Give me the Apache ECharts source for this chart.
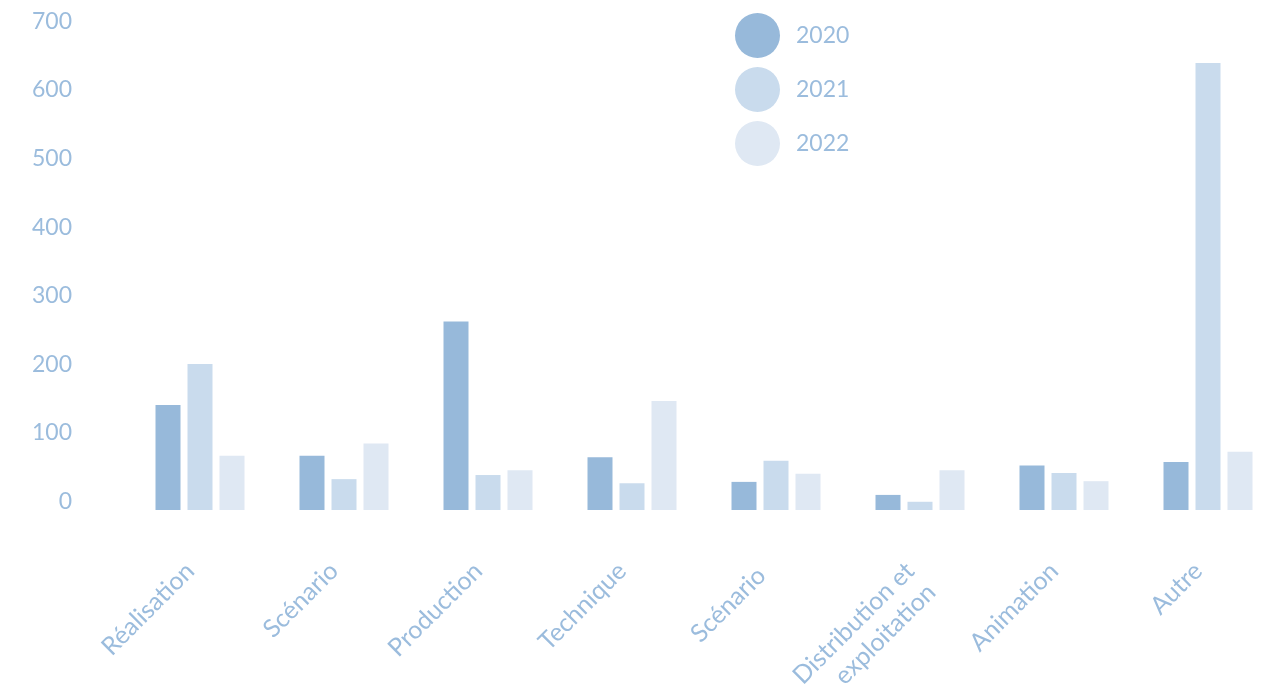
<!DOCTYPE html>
<html>
<head>
<meta charset="utf-8">
<script src="https://cdn.jsdelivr.net/npm/echarts@6/dist/echarts.min.js"></script>
<style>
  html, body { margin: 0; padding: 0; background: #fff; }
  #chart { width: 1264px; height: 688px; }
</style>
</head>
<body>
<div id="chart"></div>
<script>
// catégories et valeurs
const categories = ['Réalisation', 'Scénario', 'Production', 'Technique', 'Scénario ', 'Distribution et\nexploitation', 'Animation', 'Autre'];
const years = ['2020', '2021', '2022'];
const values2020 = [153, 79, 275, 77, 41, 22, 65, 70];
const values2021 = [213, 45, 51, 39, 72, 12, 54, 652];
const values2022 = [79, 97, 58, 159, 53, 58, 42, 85];
const colors = ['#97b9da', '#c9dbed', '#dfe8f3'];

const textColor = '#9bbcdd';
const font = 'Lato, "Noto Sans", sans-serif';

const chart = echarts.init(document.getElementById('chart'));

const series = [values2020, values2021, values2022].map((vals, i) => ({
  name: years[i],
  type: 'bar',
  data: vals,
  barWidth: 25,
  barGap: '28%',
  itemStyle: { color: colors[i] }
}));

chart.setOption({
  animation: false,
  textStyle: { fontFamily: font },
  legend: {
    orient: 'vertical',
    left: 735,
    top: 13,
    padding: 0,
    icon: 'circle',
    itemWidth: 45,
    itemHeight: 45,
    itemGap: 9,
    textStyle: { color: textColor, fontSize: 23, fontFamily: font, padding: [0, 0, 0, 11] },
    data: years
  },
  grid: {
    left: 128,
    width: 1152,
    top: 30,
    bottom: 178,
    outerBoundsMode: 'none'
  },
  xAxis: {
    type: 'category',
    data: categories,
    axisLine: { show: false },
    axisTick: { show: false },
    axisLabel: {
      rotate: 45,
      interval: 0,
      margin: 47,
      color: textColor,
      fontSize: 25,
      fontFamily: font,
      align: 'right',
      lineHeight: 30,
      padding: [0, 14, 0, 0],
      // ligne vide en tête : la première ligne reste alignée sur les autres étiquettes
      formatter: v => v.includes('\n') ? '\n' + v : v
    }
  },
  yAxis: {
    type: 'value',
    min: 0,
    max: 700,
    interval: 100,
    axisLine: { show: false },
    axisTick: { show: false },
    splitLine: { show: false },
    axisLabel: {
      margin: 56,
      color: textColor,
      fontSize: 23,
      fontFamily: font,
      verticalAlign: 'bottom',
      lineHeight: 17
    }
  },
  series: series
});
</script>
</body>
</html>
